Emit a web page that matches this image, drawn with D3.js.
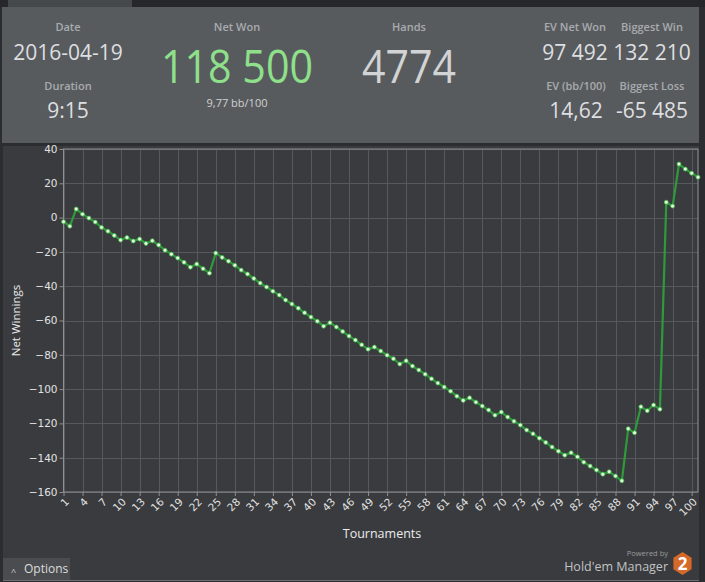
<!DOCTYPE html>
<html>
<head>
<meta charset="utf-8">
<script src="https://cdn.jsdelivr.net/npm/d3@7"></script>
<style>
  html, body { margin: 0; padding: 0; background: #2b2d30; }
  svg { display: block; font-family: "Open Sans", "Noto Sans", sans-serif; }
</style>
</head>
<body>
<script>
// net winnings per tournament (in buy-ins)
const netWinnings = [
  -2.4, -5.0, 5.0, 2.0, -0.3, -2.6, -5.7, -7.9, -10.4, -13.1,
  -11.6, -13.7, -12.5, -15.1, -13.5, -16.0, -19.0, -21.3, -23.6, -26.1,
  -28.9, -27.1, -29.8, -32.4, -20.7, -23.2, -25.4, -27.8, -30.6, -32.9,
  -35.5, -38.2, -40.5, -42.9, -45.2, -48.1, -50.4, -52.8, -55.5, -58.0,
  -60.4, -63.3, -61.3, -63.8, -66.4, -69.1, -71.4, -74.2, -76.7, -75.5,
  -77.8, -80.2, -82.3, -85.4, -83.5, -86.6, -88.9, -91.3, -94.0, -96.5,
  -98.8, -101.2, -104.1, -106.6, -105.1, -107.6, -109.9, -112.2, -115.2, -113.4,
  -116.3, -118.7, -121.0, -123.9, -126.1, -128.6, -131.1, -133.8, -136.2, -138.5,
  -137.1, -139.5, -142.6, -144.9, -147.2, -149.6, -148.2, -150.7, -153.5, -123.1,
  -125.5, -110.3, -112.6, -109.3, -111.7, 9.0, 6.7, 31.2, 28.3, 25.9,
  23.6
];
const tournaments = netWinnings.map((v, i) => i + 1);

const xTickLabels = [1, 4, 7, 10, 13, 16, 19, 22, 25, 28, 31, 34, 37, 40, 43, 46, 49,
  52, 55, 58, 61, 64, 67, 70, 73, 76, 79, 82, 85, 88, 91, 94, 97, 100];
const yTickLabels = [40, 20, 0, -20, -40, -60, -80, -100, -120, -140, -160];

// header stats: [label, value]
const statLabels = ["Date", "Duration", "Net Won", "Hands", "EV Net Won", "Biggest Win", "EV (bb/100)", "Biggest Loss"];
const statValues = ["2016-04-19", "9:15", "118 500", "4774", "97 492", "132 210", "14,62", "-65 485"];
const netWonSub = "9,77 bb/100";

const W = 705, H = 582;
const svg = d3.select("body").append("svg")
  .attr("width", W).attr("height", H);

// ---- panels ----
svg.append("rect").attr("x", 0).attr("y", 0).attr("width", W).attr("height", 7).attr("fill", "#25272a");
svg.append("rect").attr("x", 8).attr("y", 0).attr("width", 124).attr("height", 7).attr("fill", "#46494c");
svg.append("rect").attr("x", 2).attr("y", 7).attr("width", 697).attr("height", 136).attr("fill", "#585b5e");
svg.append("rect").attr("x", 3).attr("y", 146).attr("width", 696).attr("height", 434).attr("fill", "#393b3e");
svg.append("line").attr("x1", 3).attr("x2", 699).attr("y1", 580.5).attr("y2", 580.5).attr("stroke", "#6b6d70");

// ---- header ----
const hdr = svg.append("g");
const labelStyle = sel => sel.attr("fill", "#a8abae").attr("font-size", 11).attr("font-weight", 600).attr("text-anchor", "middle");
const valueStyle = sel => sel.attr("fill", "#dedfe0").attr("font-size", 21).attr("text-anchor", "middle");

const statPos = [
  {lx: 68, ly: 31, vy: 60},   // Date
  {lx: 68, ly: 90, vy: 118},  // Duration
  {lx: 237, ly: 31, vy: 83},  // Net Won
  {lx: 409, ly: 31, vy: 83},  // Hands
  {lx: 575, ly: 31, vy: 60},  // EV Net Won
  {lx: 652, ly: 31, vy: 60},  // Biggest Win
  {lx: 576, ly: 90, vy: 118}, // EV (bb/100)
  {lx: 652, ly: 90, vy: 118}  // Biggest Loss
];

statLabels.forEach((lab, i) => {
  const p = statPos[i];
  hdr.append("text").attr("x", p.lx).attr("y", p.ly).text(lab).call(labelStyle);
  const t = hdr.append("text").attr("x", p.lx).attr("y", p.vy).text(statValues[i]).call(valueStyle);
  if (i === 2) {
    t.attr("font-size", 46).attr("fill", "#8fe08a")
      .attr("textLength", 152).attr("lengthAdjust", "spacingAndGlyphs");
  }
  if (i === 3) {
    t.attr("font-size", 46).attr("fill", "#d2d3d4")
      .attr("textLength", 94).attr("lengthAdjust", "spacingAndGlyphs");
  }
});
hdr.append("text").attr("x", 237).attr("y", 107).text(netWonSub)
  .attr("fill", "#d0d1d2").attr("font-size", 11).attr("text-anchor", "middle");

// ---- chart ----
const x = d3.scaleLinear().domain([1, 101]).range([63.5, 698]);
const y = d3.scaleLinear().domain([-160, 40]).range([492, 149]);

const plot = svg.append("g");

// grid
plot.append("g").selectAll("line").data(xTickLabels).join("line")
  .attr("x1", d => Math.round(x(d)) + 0.5).attr("x2", d => Math.round(x(d)) + 0.5)
  .attr("y1", y(40)).attr("y2", y(-160))
  .attr("stroke", "#56585b");
plot.append("g").selectAll("line").data(yTickLabels).join("line")
  .attr("x1", x(1)).attr("x2", x(101))
  .attr("y1", d => Math.round(y(d)) + 0.5).attr("y2", d => Math.round(y(d)) + 0.5)
  .attr("stroke", "#56585b");

// border
plot.append("rect")
  .attr("x", x(1)).attr("y", y(40))
  .attr("width", x(101) - x(1)).attr("height", y(-160) - y(40))
  .attr("fill", "none").attr("stroke", "#8e9093");

// y axis
const yAxis = plot.append("g")
  .attr("transform", `translate(${x(1)},0)`)
  .call(d3.axisLeft(y).tickValues(yTickLabels).tickSize(4).tickPadding(2));
yAxis.select(".domain").remove();
yAxis.selectAll(".tick line").attr("stroke", "#8e9093");
yAxis.selectAll(".tick text").attr("fill", "#e2e2e2")
  .attr("font-family", "'DejaVu Sans', sans-serif").attr("font-size", 10.5);

// x axis: labels slanted, ending at the tick
const xAxis = plot.append("g")
  .attr("transform", `translate(0,${y(-160)})`)
  .call(d3.axisBottom(x).tickValues(xTickLabels).tickSize(4));
xAxis.select(".domain").remove();
xAxis.selectAll(".tick line").attr("stroke", "#8e9093");
xAxis.selectAll(".tick text")
  .attr("fill", "#e2e2e2").attr("font-size", 10.5)
  .attr("font-family", "'DejaVu Sans', sans-serif")
  .attr("text-anchor", "end")
  .attr("y", 0).attr("dy", "0.35em")
  .attr("transform", "translate(3,8) rotate(-45)");

// axis titles
svg.append("text").attr("x", 382).attr("y", 538).attr("text-anchor", "middle")
  .attr("fill", "#ececec").attr("font-size", 12.5).text("Tournaments");
svg.append("text").attr("transform", `translate(20,${(y(40) + y(-160)) / 2}) rotate(-90)`)
  .attr("text-anchor", "middle").attr("fill", "#ececec").attr("font-size", 11.5).text("Net Winnings");

// line + points
const line = d3.line().x((d, i) => x(tournaments[i])).y(d => y(d));
plot.append("path").datum(netWinnings)
  .attr("d", line).attr("fill", "none")
  .attr("stroke", "#2f9a3a").attr("stroke-width", 2.2);
plot.append("g").selectAll("circle").data(netWinnings).join("circle")
  .attr("cx", (d, i) => x(tournaments[i])).attr("cy", d => y(d))
  .attr("r", 2).attr("fill", "#e2ffda").attr("stroke", "#3fb04a").attr("stroke-width", 0.8);

// ---- footer ----
svg.append("rect").attr("x", 3).attr("y", 558).attr("width", 67).attr("height", 22).attr("fill", "#4a4c4f");
svg.append("text").attr("x", 11).attr("y", 575).attr("fill", "#cfcfcf").attr("font-size", 9).text("^");
svg.append("text").attr("x", 24).attr("y", 573).attr("fill", "#dcdcdc").attr("font-size", 12).text("Options");

svg.append("text").attr("x", 668).attr("y", 556).attr("text-anchor", "end")
  .attr("fill", "#9a9c9e").attr("font-size", 7.5).text("Powered by");
svg.append("text").attr("x", 668).attr("y", 571).attr("text-anchor", "end")
  .attr("fill", "#c0c2c4").attr("font-size", 12.5).text("Hold'em Manager");
const hex = d3.range(6).map(k => {
  const a = Math.PI / 3 * k + Math.PI / 6;
  return [682.5 + 10.5 * Math.cos(a), 563.5 + 11.5 * Math.sin(a)];
});
svg.append("polygon").attr("points", hex.map(p => p.join(",")).join(" ")).attr("fill", "#d4692a");
svg.append("text").attr("x", 682.5).attr("y", 570).attr("text-anchor", "middle")
  .attr("fill", "#ffffff").attr("font-size", 17).attr("font-weight", 700).text("2");
</script>
</body>
</html>
